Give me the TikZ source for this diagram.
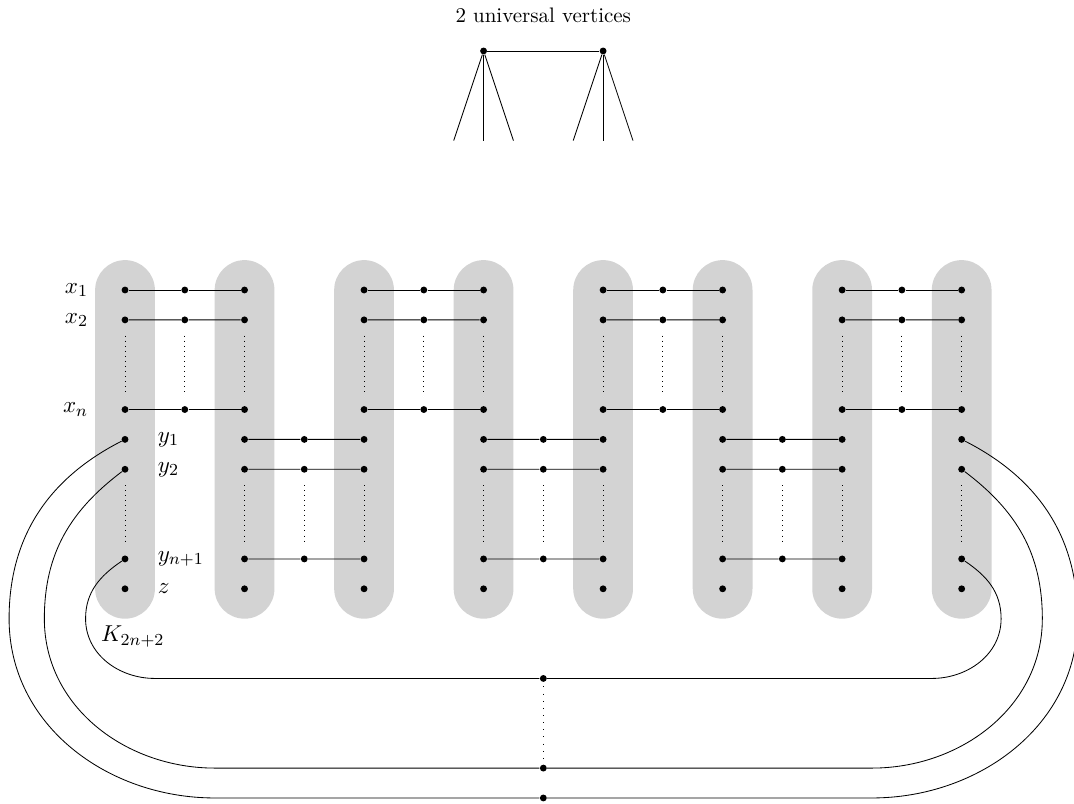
\documentclass[tikz,border=0pt]{standalone}
\usepackage{tikz}
\usetikzlibrary{positioning,calc}
\definecolor{pillgray}{RGB}{211,211,211}
\tikzset{vtx/.style={circle,fill,inner sep=0pt,minimum size=0.115cm},
         lbl/.style={font=\fontsize{11.3}{13}\selectfont}}

\begin{document}
\begin{tikzpicture}
\useasboundingbox (-2.092,-8.6) rectangle (15.88,4.853);
% Gray columns behind the vertices
\foreach \c in {0,...,7}
  \fill[pillgray,rounded corners=0.5cm] (2*\c-0.5,0.5) rectangle (2*\c+0.5,-5.5);
% Vertices of each column (rows 1..7)
\foreach \c in {0,...,7}
  \foreach \r/\y in {1/0,2/-0.5,3/-2,4/-2.5,5/-3,6/-4.5,7/-5}
    \node[vtx] (v-\c-\r) at (2*\c,\y) {};
%% Paths of length two on the x rows
\foreach \c/\d in {0/1,2/3,4/5,6/7} {
  \foreach \r in {1,2,3} {
    \node[vtx] (m-\c-\r) at ($(v-\c-\r)!0.5!(v-\d-\r)$) {};
    \draw (v-\c-\r) -- (m-\c-\r) -- (v-\d-\r);
  }
  \draw[dotted,shorten <=0.2cm,shorten >=0.2cm] (m-\c-2) -- (m-\c-3);
}
%% Paths of length two on the y rows
\foreach \c/\d in {1/2,3/4,5/6} {
  \foreach \r in {4,5,6} {
    \node[vtx] (m-\c-\r) at ($(v-\c-\r)!0.5!(v-\d-\r)$) {};
    \draw (v-\c-\r) -- (m-\c-\r) -- (v-\d-\r);
  }
  \draw[dotted,shorten <=0.2cm,shorten >=0.2cm] (m-\c-5) -- (m-\c-6);
}
% Dots inside the columns
\foreach \c in {0,...,7} {
  \draw[dotted,shorten <=0.2cm,shorten >=0.2cm] (v-\c-2) -- (v-\c-3);
  \draw[dotted,shorten <=0.2cm,shorten >=0.2cm] (v-\c-5) -- (v-\c-6);
}
% Labels of the first column
\node[lbl,left=0.43cm of v-0-1] {$x_1$};
\node[lbl,left=0.43cm of v-0-2] {$x_2$};
\node[lbl,left=0.43cm of v-0-3] {$x_n$};
\node[lbl,right=0.36cm of v-0-4] {$y_1$};
\node[lbl,right=0.36cm of v-0-5] {$y_2$};
\node[lbl,right=0.36cm of v-0-6] {$y_{n+1}$};
\node[lbl,right=0.36cm of v-0-7] {$z$};
\node[lbl] at ([xshift=0.13cm,yshift=-0.8cm]v-0-7) {$K_{2n+2}$};
% Two universal vertices on top
\node (title) at (7,4.6) {2 universal vertices};
\node[vtx] (u-1) at (6,4) {};
\node[vtx] (u-2) at (8,4) {};
\draw (u-1) -- (u-2);
\foreach \u/\x in {1/6,2/8}
  \foreach \d in {-0.5,0,0.5}
    \draw (u-\u) -- (\x+\d,2.5);
% Long paths round the bottom
\foreach \b/\y in {1/-6.5,2/-8,3/-8.5}
  \node[vtx] (b-\b) at (7,\y) {};
\foreach \r/\b/\a/\ai/\w/\e/\h in {4/3/207/-27/1.94/1.5/-8.5,
                                   5/2/217/-37/1.35/1.5/-8,
                                   6/1/214/-34/0.66/0.5/-6.5}
  \draw (v-0-\r) to[out=\a,in=90] (-\w,-5.5) to[out=-90,in=180] (\e,\h)
    -- (b-\b) -- (14-\e,\h) to[out=0,in=-90] (14+\w,-5.5)
    to[out=90,in=\ai] (v-7-\r);
\draw[dash pattern=on 0.4pt off 3pt,shorten <=0.07cm,shorten >=0.08cm] (b-1) -- (b-2);
\end{tikzpicture}
\end{document}
